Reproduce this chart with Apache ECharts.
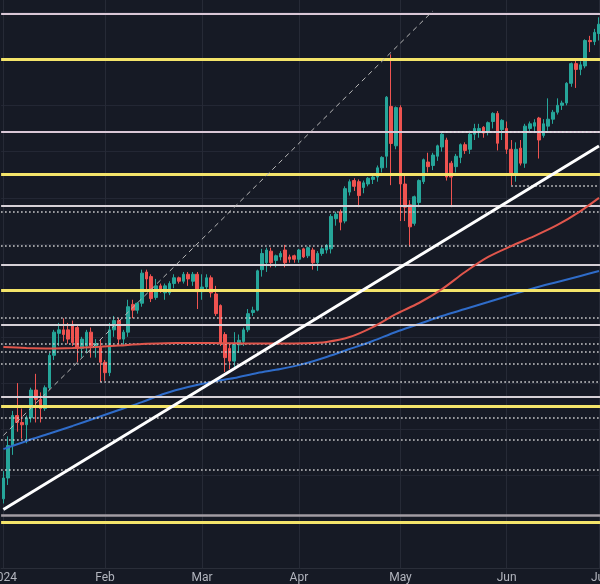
<!DOCTYPE html>
<html><head><meta charset="utf-8">
<script src="https://cdn.jsdelivr.net/npm/echarts@6/dist/echarts.min.js"></script>
<style>html,body{margin:0;padding:0;background:#161a25;}#c{width:600px;height:584px;}</style>
</head><body><div id="c"></div>
<script>
const dates = [
'2024-01-02','2024-01-03','2024-01-04','2024-01-05','2024-01-08','2024-01-09','2024-01-10','2024-01-11','2024-01-12','2024-01-15',
'2024-01-16','2024-01-17','2024-01-18','2024-01-19','2024-01-22','2024-01-23','2024-01-24','2024-01-25','2024-01-26','2024-01-29',
'2024-01-30','2024-01-31','2024-02-01','2024-02-02','2024-02-05','2024-02-06','2024-02-07','2024-02-08','2024-02-09','2024-02-12',
'2024-02-13','2024-02-14','2024-02-15','2024-02-16','2024-02-19','2024-02-20','2024-02-21','2024-02-22','2024-02-23','2024-02-26',
'2024-02-27','2024-02-28','2024-02-29','2024-03-01','2024-03-04','2024-03-05','2024-03-06','2024-03-07','2024-03-08','2024-03-11',
'2024-03-12','2024-03-13','2024-03-14','2024-03-15','2024-03-18','2024-03-19','2024-03-20','2024-03-21','2024-03-22','2024-03-25',
'2024-03-26','2024-03-27','2024-03-28','2024-03-29','2024-04-01','2024-04-02','2024-04-03','2024-04-04','2024-04-05','2024-04-08',
'2024-04-09','2024-04-10','2024-04-11','2024-04-12','2024-04-15','2024-04-16','2024-04-17','2024-04-18','2024-04-19','2024-04-22',
'2024-04-23','2024-04-24','2024-04-25','2024-04-26','2024-04-29','2024-04-30','2024-05-01','2024-05-02','2024-05-03','2024-05-06',
'2024-05-07','2024-05-08','2024-05-09','2024-05-10','2024-05-13','2024-05-14','2024-05-15','2024-05-16','2024-05-17','2024-05-20',
'2024-05-21','2024-05-22','2024-05-23','2024-05-24','2024-05-27','2024-05-28','2024-05-29','2024-05-30','2024-05-31','2024-06-03',
'2024-06-04','2024-06-05','2024-06-06','2024-06-07','2024-06-10','2024-06-11','2024-06-12','2024-06-13','2024-06-14','2024-06-17',
'2024-06-18','2024-06-19','2024-06-20','2024-06-21','2024-06-24','2024-06-25','2024-06-26','2024-06-27','2024-06-28','2024-07-01'
];
const opens = [
141.0,141.9,143.3,144.6,144.3,144.2,144.5,145.7,145.3,144.9,
145.8,147.2,148.15,148.3,148.3,148.5,148.4,147.5,147.6,148.2,
147.6,147.55,146.9,146.45,148.3,148.7,147.9,148.2,149.4,149.15,
149.45,150.8,150.6,149.7,150.2,149.9,149.9,150.3,150.55,150.4,
150.7,150.4,150.7,149.95,150.15,150.55,149.85,149.35,148.1,147.5,
146.95,147.65,147.8,148.3,149.05,149.15,150.9,151.2,151.7,151.3,
151.45,151.75,151.45,151.5,151.35,151.8,151.5,151.75,151.2,151.6,
151.75,151.8,153.1,153.4,153.0,154.25,154.75,154.7,154.45,154.6,
154.8,154.9,155.3,155.8,157.95,156.25,157.9,154.6,153.7,152.9,
153.8,154.7,155.55,155.4,155.8,156.2,156.5,155.5,155.35,155.75,
156.3,156.1,156.75,156.85,157.05,156.85,157.3,157.65,156.95,157.0,
156.1,155.05,156.15,155.5,157.0,157.1,157.45,156.7,157.1,157.4,
157.7,158.0,158.1,158.95,159.8,159.55,159.7,160.8,160.75,161.1
];
const highs = [
142.2,143.7,144.8,146.0,144.9,144.6,145.8,146.4,145.6,145.9,
147.3,148.3,148.6,148.8,148.6,148.7,148.5,148.0,148.3,148.4,
147.9,147.9,147.0,148.6,148.9,148.8,148.3,149.6,149.6,149.5,
150.9,150.9,150.7,150.5,150.3,150.3,150.4,150.7,150.6,150.8,
150.8,150.8,150.8,150.7,150.7,150.65,150.2,149.4,148.2,147.7,
148.2,148.1,148.4,149.2,149.3,150.9,151.8,151.85,151.85,151.55,
151.7,151.97,151.55,151.55,151.8,151.85,151.9,151.85,151.7,151.9,
152.0,153.3,153.4,153.5,154.5,154.8,154.85,154.8,154.75,154.9,
154.95,155.4,155.8,158.4,160.2,157.95,158.0,155.0,153.9,154.1,
154.8,155.7,155.95,155.95,156.3,156.8,156.6,155.6,155.9,156.35,
156.4,156.9,157.2,157.2,157.1,157.3,157.7,157.75,157.4,157.3,
156.5,156.4,156.5,157.2,157.3,157.4,157.5,157.4,158.3,157.8,
158.3,158.2,159.0,159.85,159.95,159.9,160.85,161.0,161.3,161.8
];
const lows = [
140.8,141.6,142.9,143.9,143.6,143.4,144.3,144.3,144.3,144.8,
145.7,147.0,147.6,147.8,147.7,147.6,146.9,147.1,147.3,147.1,
147.1,146.05,146.1,146.3,148.0,147.6,147.6,148.0,148.8,149.0,
149.3,150.0,149.5,149.6,149.9,149.6,149.8,150.1,150.3,150.3,
150.2,150.2,149.2,149.6,150.0,149.7,148.9,147.6,146.48,146.6,
146.7,147.3,147.6,148.2,148.9,149.1,150.6,150.8,151.0,151.0,
151.3,151.0,151.2,151.2,151.2,151.4,151.4,150.9,150.85,151.5,
151.6,151.6,152.8,152.6,152.9,154.1,154.3,153.6,154.2,154.5,
154.6,154.7,155.1,155.3,154.55,156.1,153.0,153.0,151.9,152.8,
153.6,154.6,155.1,155.2,155.6,156.0,154.75,153.6,155.1,155.5,
155.9,155.9,156.5,156.6,156.6,156.7,157.0,156.05,156.5,155.9,
154.55,154.7,155.4,155.3,156.8,156.8,155.7,156.6,156.9,157.2,
157.6,157.8,158.0,158.8,158.75,159.3,159.6,160.3,160.6,160.8
];
const closes = [
141.9,143.3,144.6,144.3,144.2,144.5,145.7,145.3,144.9,145.8,
147.2,148.2,148.3,148.1,147.9,147.75,147.5,147.9,148.2,147.6,
147.7,146.9,146.45,148.3,148.7,147.9,148.2,149.3,149.15,149.45,
150.75,150.5,149.65,150.2,150.0,150.2,150.3,150.55,150.4,150.7,
150.5,150.7,149.95,150.15,150.55,149.9,149.0,147.7,147.1,146.95,
147.7,147.85,148.3,149.0,149.15,150.85,151.6,151.75,151.2,151.5,
151.6,151.2,151.35,151.35,151.75,151.45,151.85,151.2,151.6,151.8,
151.95,153.2,153.3,152.95,154.4,154.7,154.5,154.1,154.65,154.85,
154.9,155.3,155.75,158.35,156.35,157.9,154.6,153.6,152.75,154.05,
154.75,155.65,155.35,155.85,156.25,156.75,154.9,154.9,155.8,156.3,
156.05,156.75,157.0,157.0,156.8,157.25,157.65,156.36,157.35,156.1,
155.05,156.1,155.5,157.1,157.2,157.25,156.5,157.2,157.4,157.7,
158.0,158.1,158.95,159.8,159.55,159.75,160.8,160.75,161.15,161.5
];
// moving averages: [trading-day index, value]
const maRed = [[0,147.56],[5,147.52],[10,147.5],[15,147.52],[20,147.56],[25,147.62],[30,147.69],[35,147.72],[40,147.73],[45,147.73],[50,147.72],[55,147.71],[60,147.71],[65,147.72],[70,147.78],[75,147.99],[80,148.42],[85,148.98],[90,149.46],[95,150.06],[100,150.8],[105,151.45],[110,151.92],[115,152.35],[120,152.83],[125,153.43],[129,154.0]];
const maBlue = [[0,143.15],[5,143.5],[10,143.82],[15,144.15],[20,144.49],[25,144.84],[30,145.18],[35,145.55],[40,145.83],[45,146.05],[50,146.22],[55,146.44],[60,146.61],[65,146.83],[70,147.13],[75,147.47],[80,147.82],[85,148.21],[90,148.55],[95,148.9],[100,149.2],[105,149.5],[110,149.81],[115,150.11],[120,150.37],[125,150.63],[129,150.84]];
const trendLine = [[0,140.54],[129,156.24]];
const dashedLine = [[0,143.74],[93,162.07]];
// horizontal levels
const yellowLevels = [160.0,155.0,150.0,145.0,140.0];
const pinkLevels = [161.97,156.85];
const lightLevels = [153.66,151.11,148.54,145.39];
const greyLevels = [140.27];
const dottedLevels = [153.39,151.95,148.84,147.68,147.36,146.83,144.52,143.57,142.25];
const dottedRays = [[110,154.53],[21,146.05],[95,156.85]];
// x axis ticks
const monthStarts = ['2024-01-02','2024-02-01','2024-03-01','2024-04-01','2024-05-01','2024-06-03','2024-07-01'];
const tickLabels = ['2024','Feb','Mar','Apr','May','Jun','Jul'];

const candleData = dates.map((d,i)=>[opens[i],closes[i],lows[i],highs[i]]);
const last = dates[dates.length-1];
const lvl = (v,color,width,type)=>({yAxis:v,lineStyle:{color:color,width:width,type:type}});
const levelData = [];
greyLevels.forEach(v=>levelData.push(lvl(v,'#a29ca3',2.5,'solid')));
pinkLevels.forEach(v=>levelData.push(lvl(v,'#d9c7d6',2,'solid')));
lightLevels.forEach(v=>levelData.push(lvl(v,'#d6d0d6',2,'solid')));
dottedLevels.forEach(v=>levelData.push(lvl(v,'#d8d8d8',1.5,[1.5,2.5])));
dottedRays.forEach(r=>levelData.push([
  {coord:[dates[r[0]],r[1]],lineStyle:{color:'#e0e0e0',width:1.5,type:[1.5,2.5]}},
  {coord:[last,r[1]]}
]));
yellowLevels.forEach(v=>levelData.push(lvl(v,'#f4e46a',3,'solid')));

const chart = echarts.init(document.getElementById('c'),null,{renderer:'canvas'});
chart.setOption({
  animation:false,
  backgroundColor:'#161a25',
  grid:{left:1.1,top:-33.6,width:600.2,height:601.9,containLabel:false,outerBoundsMode:'none'},
  xAxis:{
    type:'category',data:dates,boundaryGap:true,
    axisLine:{show:true,lineStyle:{color:'#2a2e39',width:1}},
    axisTick:{show:false},
    splitLine:{show:false},
    axisLabel:{
      color:'#b2b5be',fontSize:12,fontFamily:'Roboto',margin:4,
      interval:(idx,val)=>monthStarts.indexOf(val)>=0,
      formatter:(val)=>{const k=monthStarts.indexOf(val);return k>=0?tickLabels[k]:'';}
    }
  },
  yAxis:{
    type:'value',min:138,max:164,interval:2,
    axisLabel:{show:false},axisLine:{show:false},axisTick:{show:false},
    splitLine:{show:true,lineStyle:{color:'#232734',width:1}}
  },
  series:[
    {
      type:'line',data:maBlue,showSymbol:false,smooth:0.3,z:3,
      lineStyle:{color:'#2f6cc9',width:2},
      markLine:{silent:true,symbol:['none','none'],label:{show:false},z:1,
        data:monthStarts.map(d=>({xAxis:d,lineStyle:{color:'#262a36',width:1,type:'solid'}}))}
    },
    {
      type:'candlestick',data:candleData,barWidth:'68%',z:2,
      itemStyle:{color:'#26a69a',color0:'#ef5350',borderColor:'#26a69a',borderColor0:'#ef5350',borderWidth:1},
      markLine:{silent:true,symbol:['none','none'],label:{show:false},z:4,data:levelData}
    },
    {
      type:'line',data:maRed,showSymbol:false,smooth:0.3,z:5,
      lineStyle:{color:'#e0564c',width:2}
    },
    {
      type:'line',data:dashedLine,showSymbol:false,z:5,
      lineStyle:{color:'#b8b8b8',width:1,type:[5,4]}
    },
    {
      type:'line',data:trendLine,showSymbol:false,z:6,
      lineStyle:{color:'#ffffff',width:3}
    }
  ]
});
</script>
</body></html>
